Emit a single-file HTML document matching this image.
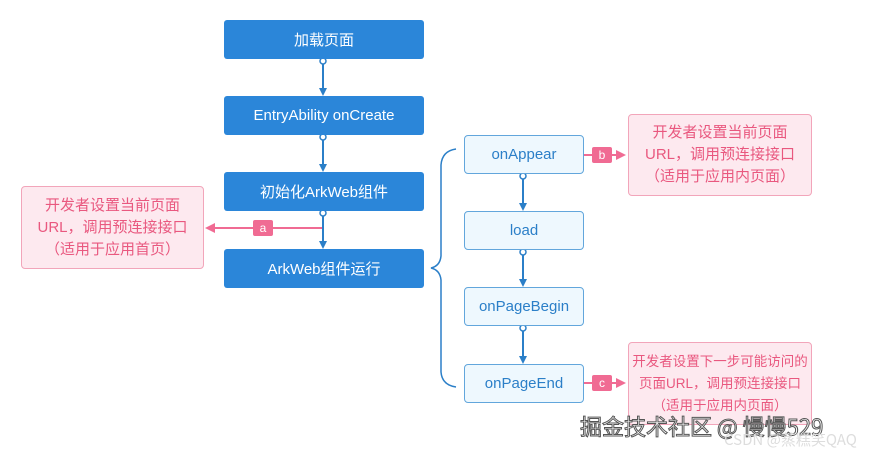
<!DOCTYPE html>
<html><head><meta charset="utf-8"><style>
body{margin:0;width:873px;height:455px;background:#fff;position:relative;overflow:hidden;font-family:"Liberation Sans","Noto Sans CJK SC",sans-serif}
.b{position:absolute;display:flex;align-items:center;justify-content:center;box-sizing:border-box;white-space:nowrap}
.d{background:#2b86d9;color:#fff;font-size:15px;border-radius:3px;left:224px;width:200px;height:39px}
.l{background:#eef8fe;border:1px solid #62a6dc;color:#2b7fc8;font-size:15px;border-radius:4px;left:464px;width:120px;height:39px}
.n{background:#fde9ef;border:1px solid #f2a5ba;color:#e9587f;font-size:15px;line-height:22px;border-radius:4px;text-align:center}
.t{background:#f06b93;color:#fff;font-size:12px;border-radius:2px;width:20px;height:16px}
.w{position:absolute;font-family:"Noto Sans CJK SC",sans-serif;white-space:nowrap}
</style></head><body>
<svg width="873" height="455" style="position:absolute;left:0;top:0">
<defs><marker id="ab" markerWidth="8" markerHeight="8" refX="6" refY="4" orient="auto" markerUnits="userSpaceOnUse"><path d="M0,0L8,4L0,8z" fill="#2b7fc8"/></marker>
<marker id="ap" markerWidth="10" markerHeight="10" refX="8" refY="5" orient="auto" markerUnits="userSpaceOnUse"><path d="M0,0L10,5L0,10z" fill="#f06b93"/></marker></defs>
<g stroke="#2b7fc8" stroke-width="2" fill="none">
<line x1="323" y1="61" x2="323" y2="94" marker-end="url(#ab)"/>
<line x1="323" y1="137" x2="323" y2="170" marker-end="url(#ab)"/>
<line x1="323" y1="213" x2="323" y2="247" marker-end="url(#ab)"/>
<line x1="523" y1="176" x2="523" y2="209" marker-end="url(#ab)"/>
<line x1="523" y1="252" x2="523" y2="285" marker-end="url(#ab)"/>
<line x1="523" y1="328" x2="523" y2="362" marker-end="url(#ab)"/>
<path d="M456,149 Q442,151 441,165 L441,256 Q440,266 431,268 Q440,270 441,280 L441,372 Q442,385 456,387" stroke-width="1.5"/>
</g>
<g fill="#fff" stroke="#2b7fc8" stroke-width="1.5">
<circle cx="323" cy="61" r="3"/><circle cx="323" cy="137" r="3"/><circle cx="323" cy="213" r="3"/>
<circle cx="523" cy="176" r="3"/><circle cx="523" cy="252" r="3"/><circle cx="523" cy="328" r="3"/>
</g>
<g stroke="#f06b93" stroke-width="2">
<line x1="322" y1="228" x2="207" y2="228" marker-end="url(#ap)"/>
<line x1="584" y1="155" x2="624" y2="155" marker-end="url(#ap)"/>
<line x1="584" y1="383" x2="624" y2="383" marker-end="url(#ap)"/>
</g>
</svg>
<div class="b d" style="top:20px">加载页面</div>
<div class="b d" style="top:96px">EntryAbility onCreate</div>
<div class="b d" style="top:172px">初始化ArkWeb组件</div>
<div class="b d" style="top:249px">ArkWeb组件运行</div>
<div class="b l" style="top:135px">onAppear</div>
<div class="b l" style="top:211px">load</div>
<div class="b l" style="top:287px">onPageBegin</div>
<div class="b l" style="top:364px">onPageEnd</div>
<div class="b n" style="left:21px;top:186px;width:183px;height:83px">开发者设置当前页面<br>URL，调用预连接接口<br>（适用于应用首页）</div>
<div class="b n" style="left:628px;top:114px;width:184px;height:82px">开发者设置当前页面<br>URL，调用预连接接口<br>（适用于应用内页面）</div>
<div class="b n" style="left:628px;top:342px;width:184px;height:83px;font-size:13.5px">开发者设置下一步可能访问的<br>页面URL，调用预连接接口<br>（适用于应用内页面）</div>
<div class="b t" style="left:253px;top:220px">a</div>
<div class="b t" style="left:592px;top:147px">b</div>
<div class="b t" style="left:592px;top:375px">c</div>
<div class="w" style="left:580px;top:411px;font-size:22px;color:#fff;-webkit-text-stroke:1px #555;line-height:30px">掘金技术社区 @ 慢慢529</div>
<div class="w" style="left:724px;top:430px;font-size:15px;color:#ddd;line-height:20px">CSDN @蒸糕笑QAQ</div>
</body></html>
